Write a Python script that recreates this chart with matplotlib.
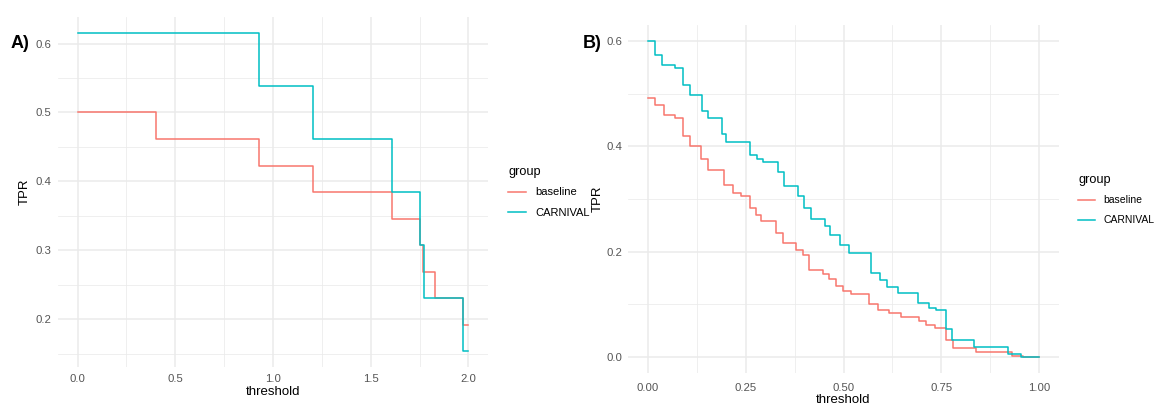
import numpy as np
import matplotlib
matplotlib.use("Agg")
import matplotlib.pyplot as plt
from matplotlib.ticker import MultipleLocator

plt.rcParams["font.family"] = ["Liberation Sans", "DejaVu Sans"]

# colours of the two groups (ggplot default hues)
BASE_COL = "#F8766D"
CARN_COL = "#00BFC4"
GRID_COL = "#EBEBEB"
TEXT_COL = "#555555"

# panel A: step curves, threshold where each TPR level starts
a_thr_base = [0.0, 0.40, 0.93, 1.205, 1.61, 1.75, 1.767, 1.827, 1.97, 2.0]
a_tpr_base = [0.500, 0.462, 0.423, 0.385, 0.346, 0.308, 0.269, 0.231, 0.192, 0.192]
a_thr_carn = [0.0, 0.93, 1.205, 1.607, 1.75, 1.775, 1.97, 2.0]
a_tpr_carn = [0.615, 0.538, 0.462, 0.385, 0.308, 0.231, 0.154, 0.154]

# panel B
b_thr_base = [0.0, 0.02, 0.041, 0.069, 0.09, 0.107, 0.137, 0.153, 0.194, 0.217,
              0.239, 0.262, 0.276, 0.29, 0.329, 0.345, 0.38, 0.396, 0.413, 0.447,
              0.464, 0.481, 0.498, 0.52, 0.566, 0.587, 0.617, 0.647, 0.692, 0.71,
              0.734, 0.762, 0.779, 0.838, 0.931, 0.957, 1.0]
b_tpr_base = [0.492, 0.479, 0.459, 0.454, 0.420, 0.401, 0.376, 0.355, 0.327, 0.312,
              0.306, 0.282, 0.269, 0.259, 0.236, 0.217, 0.204, 0.193, 0.166, 0.157,
              0.149, 0.135, 0.126, 0.119, 0.100, 0.090, 0.083, 0.076, 0.068, 0.061,
              0.055, 0.033, 0.017, 0.009, 0.003, 0.0, 0.0]
b_thr_carn = [0.0, 0.02, 0.038, 0.069, 0.09, 0.107, 0.14, 0.153, 0.189, 0.20,
              0.262, 0.278, 0.294, 0.332, 0.347, 0.383, 0.398, 0.417, 0.452, 0.466,
              0.49, 0.515, 0.571, 0.592, 0.612, 0.638, 0.691, 0.719, 0.737, 0.762,
              0.778, 0.834, 0.921, 0.953, 1.0]
b_tpr_carn = [0.600, 0.573, 0.555, 0.548, 0.517, 0.498, 0.466, 0.453, 0.423, 0.408,
              0.383, 0.376, 0.371, 0.351, 0.325, 0.306, 0.282, 0.262, 0.249, 0.231,
              0.212, 0.197, 0.160, 0.147, 0.134, 0.122, 0.103, 0.094, 0.089, 0.053,
              0.033, 0.019, 0.006, 0.0, 0.0]

fig = plt.figure(figsize=(11.57, 4.04), dpi=100)
ax_a = fig.add_axes([58 / 1157, 37 / 404, 430 / 1157, 350 / 404])
ax_b = fig.add_axes([628 / 1157, 31 / 404, 431 / 1157, 348 / 404])


def style_axes(ax, xmaj, ymaj, xlim, ylim, xpad, ypad, ylab_x, xlab_y):
    ax.set_xlim(*xlim)
    ax.set_ylim(*ylim)
    ax.xaxis.set_major_locator(MultipleLocator(xmaj))
    ax.xaxis.set_minor_locator(MultipleLocator(xmaj / 2))
    ax.yaxis.set_major_locator(MultipleLocator(ymaj))
    ax.yaxis.set_minor_locator(MultipleLocator(ymaj / 2))
    ax.grid(which="major", color=GRID_COL, lw=1.1)
    ax.grid(which="minor", color=GRID_COL, lw=0.55)
    ax.set_axisbelow(True)
    for s in ax.spines.values():
        s.set_visible(False)
    ax.tick_params(which="both", length=0, labelsize=8.2, labelcolor=TEXT_COL)
    ax.tick_params(axis="x", pad=xpad)
    ax.tick_params(axis="y", pad=ypad)
    ax.set_xlabel("threshold", fontsize=9.5)
    ax.set_ylabel("TPR", fontsize=9.5)
    ax.xaxis.label.set_va("center")
    ax.yaxis.label.set_va("center")
    ax.yaxis.set_label_coords(ylab_x, 0.5)
    ax.xaxis.set_label_coords(0.5, xlab_y)


def add_legend(ax, x, y, size):
    leg = ax.legend(loc="upper left", bbox_to_anchor=(x, y), frameon=False,
                    title="group", fontsize=size, title_fontsize=9.2,
                    handlelength=1.6, handletextpad=0.8, labelspacing=0.95,
                    borderaxespad=0, borderpad=0)
    leg._legend_box.align = "left"
    leg._legend_box.sep = 7


# panel A
ax_a.plot(a_thr_base, a_tpr_base, drawstyle="steps-post", color=BASE_COL, lw=1.1, label="baseline")
ax_a.plot(a_thr_carn, a_tpr_carn, drawstyle="steps-post", color=CARN_COL, lw=1.1, label="CARNIVAL")
style_axes(ax_a, 0.5, 0.1, (-0.1, 2.1), (0.1307, 0.6385), 5, 4.5, -0.077, -0.072)
ax_a.set_yticks([0.2, 0.3, 0.4, 0.5, 0.6])
add_legend(ax_a, 1.047, 0.575, 8)
fig.text(20 / 1157, 1 - 43 / 404, "A)", fontsize=13, fontweight="bold", ha="center", va="center")

# panel B
ax_b.plot(b_thr_base, b_tpr_base, drawstyle="steps-post", color=BASE_COL, lw=1.1, label="baseline")
ax_b.plot(b_thr_carn, b_tpr_carn, drawstyle="steps-post", color=CARN_COL, lw=1.1, label="CARNIVAL")
style_axes(ax_b, 0.25, 0.2, (-0.05, 1.05), (-0.03, 0.63), 7, 4, -0.07, -0.078)
add_legend(ax_b, 1.045, 0.573, 7.5)
fig.text(592 / 1157, 1 - 43 / 404, "B)", fontsize=13, fontweight="bold", ha="center", va="center")

fig.savefig("out.png", dpi=100)
